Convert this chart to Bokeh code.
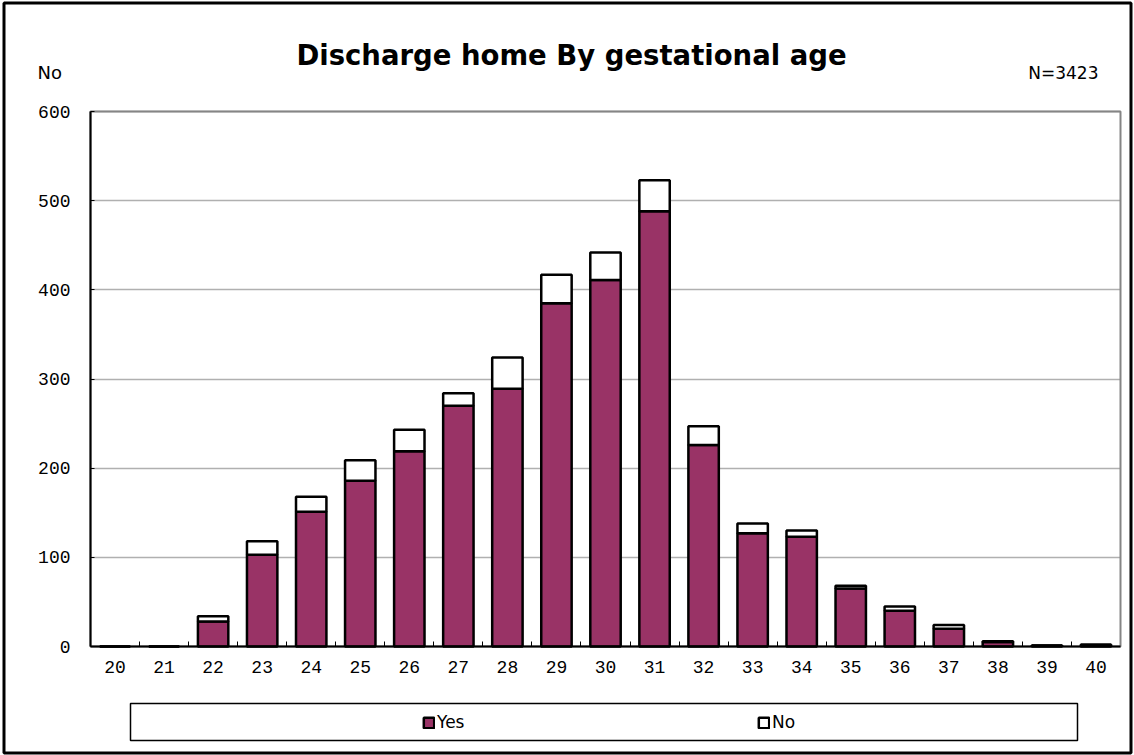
from bokeh.plotting import figure
from bokeh.models import (ColumnDataSource, Range1d, FixedTicker, Label, Legend,
                          LegendItem, BoxAnnotation)
from bokeh.embed import file_html
from bokeh.resources import INLINE

# ---------------- data ----------------
ages = [20, 21, 22, 23, 24, 25, 26, 27, 28, 29, 30, 31, 32, 33, 34, 35, 36, 37, 38, 39, 40]
yes = [0, 0, 28, 103, 151, 186, 219, 270, 289, 385, 411, 488, 226, 127, 123, 65, 40, 20, 5, 1, 2]
no = [0, 0, 6, 15, 17, 23, 24, 14, 35, 32, 31, 35, 21, 11, 7, 3, 5, 4, 1, 0, 0]
series = ["Yes", "No"]
y_ticks = [0, 100, 200, 300, 400, 500, 600]
title_text = "Discharge home By gestational age"
y_title = "No"
n_text = "N=3423"

# ---------------- layout (pixel positions on the canvas) ----------------
W, H = 1134, 755
F_LEFT, F_RIGHT, F_TOP, F_BOTTOM = 90, 1120, 111, 646   # plot area
X0, X1 = 19.5, 40.5
Y0, Y1 = 0, 600
PXU_X = (F_RIGHT - F_LEFT) / (X1 - X0)
PXU_Y = (F_BOTTOM - F_TOP) / (Y1 - Y0)

def dx(px):
    return X0 + (px - F_LEFT) / PXU_X

def dy(py):
    return (F_BOTTOM - py) / PXU_Y

PLUM = "#993366"

src = ColumnDataSource(dict(age=ages, Yes=yes, No=no))

p = figure(width=W, height=H, output_backend="svg", toolbar_location=None,
           x_range=Range1d(dx(0), dx(W)), y_range=Range1d(dy(H), dy(0)),
           min_border=0)
p.background_fill_color = "white"
p.border_fill_color = "white"
p.outline_line_color = None

# plot-area border (grey top / right)
p.add_layout(BoxAnnotation(left=X0, right=X1, bottom=Y0, top=Y1, level="underlay",
                           fill_alpha=0, line_color="#858585", line_width=2, line_alpha=1))

rs = p.vbar_stack(series, x="age", width=0.62, source=src,
                  fill_color=[PLUM, "white"], line_color="black", line_width=2.5)

# axes
p.xaxis.fixed_location = Y0
p.xaxis.bounds = (X0, X1)
p.yaxis.fixed_location = X0
p.yaxis.bounds = (Y0, Y1)
p.xaxis.ticker = FixedTicker(ticks=ages, minor_ticks=[a + 0.5 for a in ages[:-1]])
p.xaxis.major_tick_in = 0
p.xaxis.major_tick_out = 0
p.xaxis.minor_tick_in = 5
p.xaxis.minor_tick_out = 0
p.xaxis.minor_tick_line_color = "black"
p.xaxis.major_label_standoff = 14
p.yaxis.ticker = FixedTicker(ticks=y_ticks)
p.yaxis.major_tick_in = 4
p.yaxis.major_tick_out = 0
p.yaxis.minor_tick_line_color = None
p.yaxis.major_label_standoff = 20
for ax in (p.xaxis, p.yaxis):
    ax.axis_line_color = "black"
    ax.axis_line_width = 2
    ax.major_tick_line_color = "black"
    ax.major_label_text_font = "Liberation Mono"
    ax.major_label_text_font_size = "18px"
    ax.major_label_text_color = "black"
p.xgrid.grid_line_color = None
p.ygrid.grid_line_color = "#b0b0b0"
p.ygrid.grid_line_width = 1.5
p.ygrid.cross_bounds = (X0, X1)

# texts
p.add_layout(Label(x=dx(571), y=dy(54), text=title_text, text_align="center",
                   text_baseline="alphabetic", text_font="DejaVu Sans",
                   text_font_style="bold", text_font_size="27.5px", text_color="black"))
p.add_layout(Label(x=dx(37), y=dy(72), text=y_title, text_align="left",
                   text_baseline="alphabetic", text_font="DejaVu Sans",
                   text_font_size="18px", text_color="black"))
p.add_layout(Label(x=dx(1098), y=dy(72), text=n_text, text_align="right",
                   text_baseline="alphabetic", text_font="DejaVu Sans",
                   text_font_size="17px", text_color="black"))

# legend box and outer border
p.add_layout(BoxAnnotation(left=dx(130), right=dx(1077), top=dy(703), bottom=dy(740),
                           fill_alpha=0, line_color="black", line_width=1.5, line_alpha=1))
p.add_layout(BoxAnnotation(left=dx(3.5), right=dx(W - 3.5), top=dy(2.5), bottom=dy(H - 2.5),
                           fill_alpha=0, line_color="black", line_width=3, line_alpha=1))

# legends
for r, name, gx in ((rs[0], series[0], 422), (rs[1], series[1], 757)):
    lg = Legend(items=[LegendItem(label=name, renderers=[r])],
                location=(gx, H - 732), orientation="horizontal",
                padding=0, margin=0, border_line_color=None, background_fill_alpha=0,
                glyph_width=13, glyph_height=13, label_standoff=2,
                label_text_font="DejaVu Sans", label_text_font_size="17px",
                label_text_color="black", label_height=13)
    p.add_layout(lg)

open("out.html", "w").write(file_html(p, INLINE))
